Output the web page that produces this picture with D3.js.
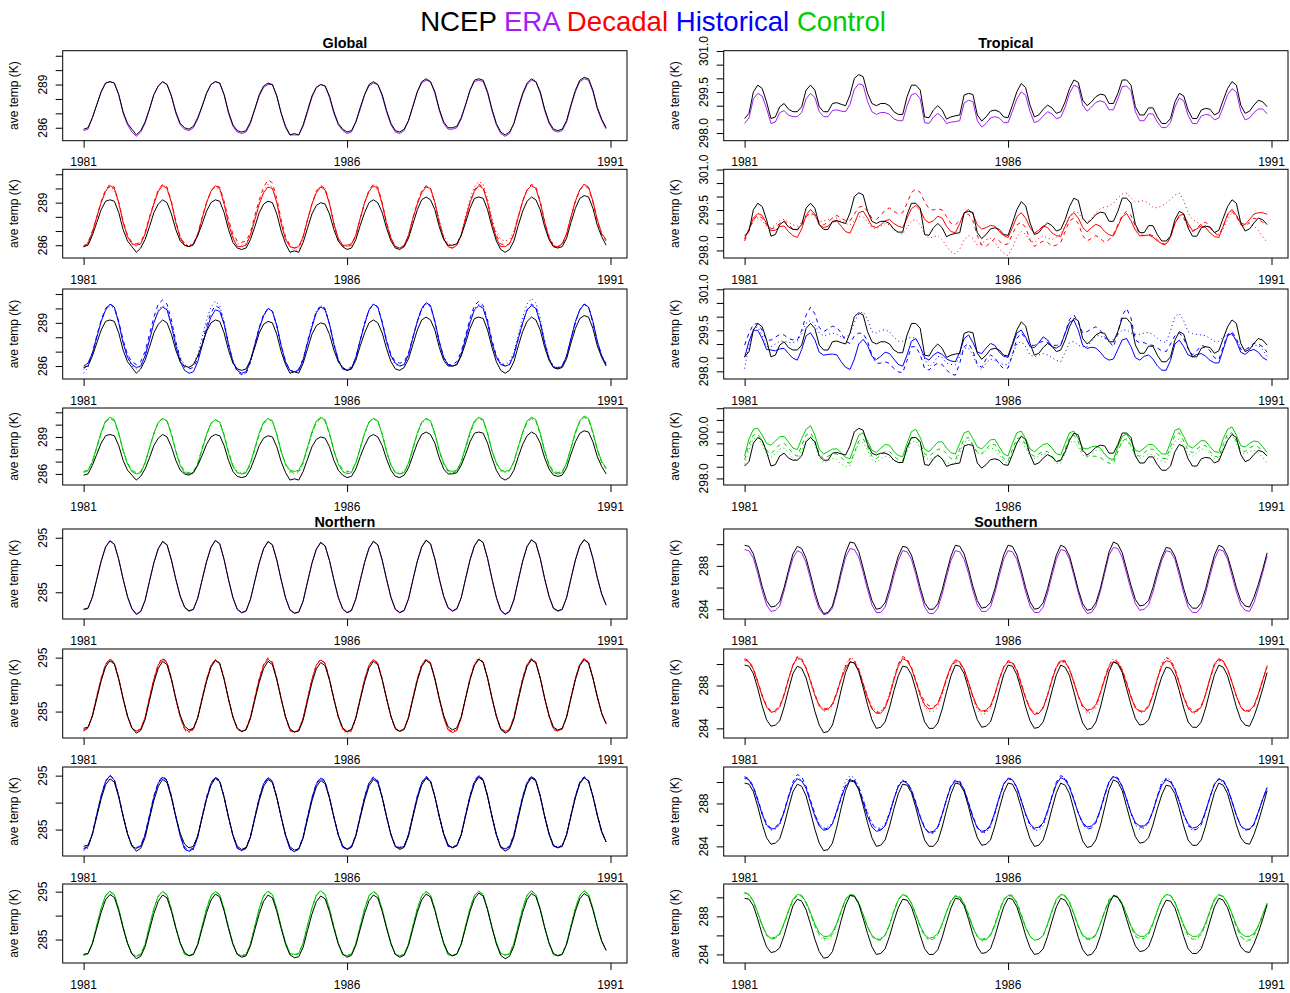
<!DOCTYPE html>
<html>
<head>
<meta charset="utf-8">
<script src="https://cdn.jsdelivr.net/npm/d3@7"></script>
<style>
  body { margin: 0; background: #fff; }
  svg { display: block; }
  text { font-family: "Liberation Sans", Arial, Helvetica, sans-serif; }
</style>
</head>
<body>
<svg id="chart" width="1290" height="993"></svg>
<script>
// monthly mean temperatures (K), Jan 1981 .. Dec 1990, one row per year

var yearTicks = [1981, 1986, 1991];
var sourceNames = ["NCEP", "ERA", "Decadal", "Historical", "Control"];
var regionNames = ["Global", "Tropical", "Northern", "Southern"];

var globalTicks = [286, 287, 288, 289, 290, 291];
var globalLabels = [286, 289];
var tropicalTicks = [298.0, 298.5, 299.0, 299.5, 300.0, 300.5, 301.0];
var tropicalLabels = [298.0, 299.5, 301.0];
var tropicalLabelsShort = [298.0, 300.0];
var northernTicks = [285, 290, 295];
var northernLabels = [285, 295];
var southernTicks = [284, 286, 288, 290];
var southernLabels = [284, 288];

// ---------- Global ----------
var globalNcep = [
285.9,286.0,286.7,287.6,288.5,289.1,289.2,289.1,288.3,287.1,286.3,285.9,
285.5,285.8,286.4,287.3,288.3,288.9,289.2,289.0,288.2,287.1,286.3,286.0,
285.9,286.1,286.7,287.5,288.4,289.0,289.2,289.1,288.3,287.1,286.2,285.8,
285.7,285.8,286.4,287.3,288.3,288.9,289.1,289.0,288.2,287.0,286.1,285.5,
285.6,285.5,286.2,287.2,288.2,288.8,289.0,288.9,288.2,287.1,286.3,285.9,
285.7,285.8,286.4,287.4,288.3,289.0,289.2,289.0,288.3,287.2,286.3,285.8,
285.7,285.9,286.5,287.5,288.5,289.2,289.4,289.2,288.5,287.3,286.4,286.0,
286.0,286.1,286.7,287.6,288.6,289.3,289.4,289.3,288.5,287.3,286.3,285.7,
285.5,285.7,286.3,287.4,288.4,289.1,289.4,289.2,288.5,287.3,286.4,285.9,
285.8,285.9,286.5,287.6,288.6,289.3,289.5,289.4,288.6,287.4,286.6,286.0];
var globalEra = [
285.8,285.9,286.7,287.6,288.5,289.1,289.2,289.1,288.3,287.0,286.2,285.7,
285.4,285.7,286.3,287.3,288.3,288.9,289.2,289.0,288.2,287.0,286.2,285.9,
285.8,286.0,286.6,287.5,288.4,289.0,289.2,289.1,288.3,287.0,286.1,285.7,
285.6,285.7,286.3,287.3,288.2,288.8,289.0,289.0,288.2,287.0,286.0,285.5,
285.5,285.5,286.1,287.1,288.1,288.8,289.0,288.9,288.1,287.0,286.2,285.8,
285.6,285.7,286.4,287.3,288.3,288.9,289.1,289.0,288.2,287.1,286.2,285.7,
285.6,285.8,286.5,287.5,288.5,289.1,289.3,289.2,288.4,287.2,286.3,285.9,
285.9,286.0,286.6,287.6,288.6,289.2,289.3,289.2,288.4,287.2,286.2,285.6,
285.4,285.6,286.3,287.3,288.3,289.0,289.3,289.2,288.4,287.2,286.3,285.8,
285.7,285.8,286.4,287.5,288.5,289.2,289.4,289.3,288.5,287.3,286.5,285.9];
var globalDecadal1 = [
285.9,286.1,286.9,288.0,289.0,289.8,290.2,290.0,289.0,287.6,286.6,286.1,
286.0,286.1,286.8,287.9,288.9,289.8,290.2,290.0,289.0,287.6,286.5,286.0,
285.9,286.0,286.7,287.9,289.0,289.8,290.2,290.0,288.9,287.5,286.5,285.9,
285.9,286.0,286.7,287.8,288.9,289.7,290.1,290.0,289.0,287.5,286.4,285.9,
285.8,285.9,286.6,287.8,288.9,289.7,290.1,289.9,288.9,287.5,286.5,286.0,
286.0,286.1,286.7,287.9,289.0,289.8,290.2,290.0,288.9,287.5,286.5,285.9,
285.8,286.0,286.7,287.9,288.9,289.7,290.1,290.0,289.0,287.6,286.5,285.9,
285.8,286.0,286.7,287.9,289.0,289.8,290.2,290.0,289.0,287.6,286.5,285.9,
285.9,286.1,286.8,288.0,289.1,289.9,290.2,290.0,289.0,287.6,286.5,285.9,
285.9,286.1,286.8,288.0,289.1,289.9,290.3,290.1,289.1,287.8,286.8,286.4];
var globalDecadal2 = [
285.9,286.2,287.0,288.0,289.1,289.9,290.3,290.1,289.0,287.7,286.7,286.2,
286.1,286.2,286.9,288.0,289.0,289.9,290.3,290.1,289.1,287.7,286.6,286.1,
285.9,286.1,286.8,288.0,289.0,289.8,290.2,290.1,289.1,287.8,286.8,286.3,
286.2,286.3,286.9,288.1,289.2,290.1,290.6,290.4,289.3,287.8,286.6,286.0,
285.8,285.9,286.6,287.8,288.9,289.8,290.2,290.0,289.0,287.5,286.4,285.9,
285.9,286.0,286.7,287.9,289.0,289.9,290.3,290.1,289.0,287.6,286.5,285.9,
285.8,285.9,286.7,287.9,289.0,289.8,290.2,290.0,289.0,287.6,286.5,285.9,
285.8,286.0,286.7,287.9,289.0,289.9,290.3,290.1,289.1,287.7,286.7,286.1,
286.0,286.1,286.8,288.0,289.1,289.9,290.3,290.1,289.1,287.7,286.6,286.0,
285.9,286.0,286.8,288.0,289.1,289.9,290.2,290.0,289.0,287.7,286.7,286.3];
var globalDecadal3 = [
286.0,286.2,286.9,287.9,289.0,289.8,290.1,289.9,288.9,287.6,286.6,286.1,
285.9,286.1,286.8,287.9,289.0,289.9,290.3,290.0,289.0,287.6,286.6,286.1,
286.0,286.1,286.8,287.9,289.0,289.8,290.1,289.9,288.9,287.6,286.6,286.1,
286.0,286.1,286.8,287.9,289.0,289.8,290.3,290.1,289.0,287.6,286.5,285.9,
285.6,285.7,286.5,287.7,288.9,289.8,290.2,290.0,289.0,287.5,286.5,286.0,
285.9,286.0,286.7,287.9,289.0,289.8,290.1,289.9,288.9,287.5,286.5,285.9,
285.8,286.0,286.7,287.9,289.0,289.8,290.2,290.0,289.1,287.8,286.7,286.1,
286.0,286.1,286.8,288.1,289.3,290.1,290.5,290.3,289.3,287.9,286.9,286.4,
286.3,286.4,287.0,288.1,289.1,289.9,290.2,290.0,289.0,287.7,286.6,286.0,
285.9,286.1,286.8,288.0,289.1,289.9,290.3,290.1,289.1,287.8,286.8,286.4];
var globalHistorical1 = [
286.0,286.2,286.9,288.0,289.1,289.9,290.3,290.1,289.0,287.6,286.6,286.1,
285.9,286.0,286.7,287.8,289.0,289.8,290.1,289.9,288.8,287.4,286.3,285.7,
285.5,285.6,286.3,287.4,288.5,289.4,289.9,289.8,288.9,287.5,286.3,285.7,
285.5,285.6,286.4,287.5,288.6,289.5,290.0,289.8,288.8,287.4,286.3,285.7,
285.6,285.7,286.4,287.6,288.7,289.7,290.1,289.9,288.9,287.5,286.4,285.8,
285.7,285.8,286.6,287.8,288.9,289.9,290.3,290.1,289.0,287.7,286.7,286.2,
286.0,286.1,286.8,288.0,289.1,290.0,290.4,290.2,289.1,287.7,286.6,286.1,
286.0,286.1,286.8,287.9,289.0,289.9,290.2,290.0,289.0,287.6,286.6,286.1,
286.0,286.1,286.8,287.9,289.0,289.9,290.2,290.0,289.0,287.6,286.5,285.9,
285.8,286.0,286.7,287.9,289.1,289.9,290.3,290.1,289.1,287.7,286.7,286.1];
var globalHistorical2 = [
285.8,286.1,286.9,288.1,289.2,290.0,290.3,290.1,289.1,287.8,286.8,286.3,
286.1,286.3,287.0,288.2,289.4,290.3,290.6,290.3,289.2,287.7,286.5,285.9,
285.8,285.9,286.5,287.6,288.8,289.7,290.2,290.0,289.0,287.5,286.3,285.6,
285.4,285.5,286.3,287.5,288.7,289.6,290.0,289.8,288.8,287.4,286.3,285.7,
285.6,285.8,286.5,287.7,288.8,289.8,290.2,290.0,288.9,287.5,286.4,285.8,
285.8,285.9,286.6,287.8,289.0,289.9,290.3,290.1,289.1,287.8,286.8,286.3,
286.2,286.3,286.9,288.0,289.1,290.0,290.4,290.2,289.1,287.7,286.6,286.1,
286.1,286.3,287.0,288.1,289.3,290.2,290.5,290.2,289.2,287.8,286.7,286.2,
286.0,286.1,286.7,287.9,289.0,289.9,290.3,290.1,289.0,287.6,286.5,285.9,
285.9,286.0,286.7,287.9,289.0,289.9,290.3,290.1,289.0,287.7,286.7,286.2];
var globalHistorical3 = [
285.5,285.9,286.8,288.0,289.1,289.9,290.2,290.0,289.0,287.6,286.6,286.0,
285.8,286.0,286.7,287.9,289.0,289.9,290.2,290.0,289.0,287.6,286.6,286.1,
285.9,286.1,286.8,288.0,289.2,290.1,290.5,290.2,289.1,287.6,286.4,285.7,
285.4,285.5,286.2,287.4,288.6,289.5,290.0,289.8,288.8,287.4,286.2,285.7,
285.6,285.7,286.5,287.7,288.9,289.8,290.2,290.0,289.0,287.6,286.5,285.9,
285.7,285.9,286.6,287.8,289.0,289.9,290.3,290.1,289.0,287.6,286.6,286.1,
286.0,286.1,286.8,287.9,289.0,289.9,290.3,290.1,289.0,287.6,286.6,286.1,
286.0,286.1,286.8,288.0,289.1,290.0,290.3,290.1,289.1,287.7,286.7,286.2,
286.1,286.3,287.0,288.2,289.4,290.3,290.7,290.4,289.3,287.8,286.6,286.0,
285.9,286.0,286.7,287.9,289.0,289.9,290.3,290.1,289.0,287.7,286.7,286.2];
var globalControl1 = [
286.2,286.3,287.0,288.2,289.4,290.3,290.6,290.4,289.3,287.9,286.8,286.2,
286.0,286.1,286.9,288.1,289.3,290.2,290.5,290.3,289.2,287.8,286.7,286.1,
286.0,286.1,286.8,288.0,289.2,290.1,290.4,290.2,289.1,287.7,286.6,286.1,
286.0,286.1,286.9,288.1,289.3,290.2,290.5,290.3,289.2,287.8,286.8,286.3,
286.2,286.3,287.0,288.2,289.4,290.3,290.6,290.4,289.3,287.9,286.8,286.2,
286.0,286.1,286.9,288.1,289.3,290.2,290.5,290.3,289.2,287.8,286.7,286.1,
286.0,286.1,286.9,288.1,289.3,290.2,290.5,290.3,289.3,287.9,286.9,286.3,
286.2,286.3,287.0,288.2,289.4,290.3,290.6,290.4,289.3,287.9,286.9,286.3,
286.2,286.3,287.0,288.2,289.4,290.3,290.6,290.4,289.3,287.8,286.7,286.1,
286.0,286.1,286.9,288.1,289.4,290.3,290.7,290.5,289.4,288.0,287.0,286.5];
var globalControl2 = [
286.1,286.3,287.0,288.1,289.3,290.2,290.5,290.3,289.2,287.9,286.9,286.3,
286.1,286.2,286.9,288.1,289.3,290.2,290.5,290.3,289.3,287.9,286.8,286.2,
286.1,286.2,286.9,288.1,289.2,290.1,290.4,290.2,289.2,287.8,286.7,286.1,
286.0,286.1,286.8,288.0,289.2,290.1,290.4,290.3,289.2,287.8,286.8,286.2,
286.1,286.2,286.9,288.1,289.3,290.2,290.5,290.3,289.2,287.9,286.9,286.4,
286.2,286.2,286.9,288.1,289.3,290.2,290.5,290.3,289.2,287.8,286.7,286.1,
286.0,286.1,286.8,288.0,289.3,290.2,290.5,290.3,289.2,287.8,286.8,286.2,
286.1,286.2,286.9,288.1,289.3,290.2,290.5,290.4,289.3,287.9,286.9,286.3,
286.2,286.3,287.0,288.2,289.3,290.2,290.5,290.3,289.2,287.9,286.8,286.2,
286.1,286.2,286.9,288.1,289.3,290.2,290.6,290.4,289.3,287.9,286.9,286.4];
var globalControl3 = [
286.2,286.2,286.9,288.1,289.3,290.2,290.5,290.3,289.3,287.9,286.8,286.2,
286.0,286.1,286.8,288.0,289.2,290.1,290.4,290.3,289.2,287.8,286.7,286.1,
286.0,286.1,286.8,288.0,289.2,290.1,290.4,290.2,289.1,287.8,286.8,286.2,
286.1,286.2,286.9,288.1,289.3,290.2,290.5,290.3,289.2,287.8,286.7,286.1,
286.0,286.1,286.8,288.0,289.2,290.1,290.5,290.3,289.2,287.8,286.8,286.2,
286.1,286.2,286.9,288.1,289.3,290.2,290.5,290.3,289.3,287.9,286.8,286.2,
286.1,286.2,286.9,288.1,289.2,290.1,290.4,290.3,289.2,287.9,286.8,286.2,
286.1,286.2,286.9,288.0,289.2,290.2,290.5,290.3,289.2,287.8,286.8,286.2,
286.1,286.2,286.9,288.1,289.3,290.2,290.5,290.3,289.3,287.9,286.8,286.2,
286.1,286.2,286.9,288.1,289.3,290.3,290.6,290.4,289.3,287.9,286.9,286.5];

// ---------- Tropical ----------
var tropicalNcep = [
298.53,298.72,299.51,299.75,299.63,299.14,298.53,298.59,298.96,299.08,298.87,298.78,
298.78,298.96,299.57,299.75,299.57,298.96,298.78,298.78,299.08,299.11,299.05,299.00,
299.39,300.00,300.14,300.06,299.45,299.08,299.00,299.08,299.08,299.00,298.78,298.68,
298.68,299.33,299.75,299.75,299.57,298.59,298.56,298.84,299.00,298.84,298.51,298.59,
298.63,298.66,299.39,299.45,299.41,298.66,298.44,298.59,298.80,298.84,298.78,298.59,
298.56,299.02,299.51,299.81,299.66,299.02,298.59,298.66,298.87,299.02,298.92,298.72,
298.78,299.14,299.63,299.94,299.85,299.20,299.00,299.14,299.33,299.42,299.39,299.08,
299.08,299.45,299.94,299.94,299.75,298.96,298.66,298.66,298.92,298.92,298.59,298.35,
298.35,298.53,299.14,299.45,299.36,298.84,298.53,298.53,298.84,298.90,298.87,298.66,
298.75,299.20,299.63,299.88,299.75,299.02,298.72,298.80,299.02,299.20,299.14,298.96];
var tropicalEra = [
298.35,298.55,299.25,299.45,299.35,298.90,298.35,298.40,298.75,298.82,298.65,298.60,
298.60,298.75,299.25,299.45,299.30,298.78,298.60,298.60,298.82,298.85,298.80,298.78,
299.05,299.60,299.80,299.75,299.15,298.78,298.68,298.75,298.75,298.68,298.52,298.45,
298.45,299.00,299.40,299.45,299.25,298.38,298.35,298.58,298.72,298.58,298.35,298.40,
298.42,298.45,299.10,299.20,299.15,298.45,298.22,298.35,298.55,298.60,298.55,298.38,
298.38,298.80,299.25,299.50,299.38,298.78,298.38,298.45,298.62,298.78,298.70,298.52,
298.58,298.95,299.45,299.75,299.68,299.02,298.80,298.95,299.12,299.18,299.12,298.85,
298.85,299.25,299.70,299.72,299.55,298.78,298.45,298.45,298.70,298.70,298.40,298.20,
298.20,298.38,298.95,299.28,299.18,298.65,298.35,298.35,298.62,298.68,298.65,298.48,
298.55,298.95,299.40,299.62,299.50,298.80,298.48,298.55,298.75,298.88,298.88,298.70];
var tropicalDecadal1 = [
298.42,298.80,299.20,299.37,299.30,299.00,298.73,298.75,298.88,298.91,298.70,298.55,
298.48,298.80,299.30,299.52,299.35,298.95,298.85,298.90,299.05,299.09,298.90,298.70,
298.64,299.00,299.40,299.46,299.20,298.90,298.85,298.95,299.10,299.15,299.00,298.90,
298.85,299.20,299.55,299.67,299.50,299.15,299.03,299.10,299.27,299.20,298.90,298.70,
298.66,299.00,299.40,299.52,299.35,298.95,298.79,298.85,298.93,298.90,298.70,298.55,
298.48,298.85,299.25,299.40,299.20,298.85,298.64,298.75,298.91,298.85,298.65,298.55,
298.52,298.90,299.25,299.40,299.20,298.85,298.69,298.85,298.97,298.90,298.70,298.58,
298.54,298.90,299.25,299.37,299.10,298.75,298.54,298.55,298.57,298.50,298.35,298.25,
298.24,298.50,299.00,299.30,299.34,299.00,298.73,298.80,298.91,298.85,298.65,298.52,
298.48,298.90,299.35,299.52,299.30,299.00,298.97,299.15,299.35,299.40,299.40,299.34];
var tropicalDecadal2 = [
298.35,298.75,299.15,299.30,299.20,298.95,298.80,298.85,299.00,299.10,298.95,298.80,
298.75,298.95,299.25,299.40,299.30,299.05,298.95,299.05,299.20,299.30,299.20,299.10,
299.10,299.35,299.60,299.65,299.45,299.20,299.15,299.30,299.50,299.58,299.45,299.35,
299.40,299.75,300.15,300.28,300.15,299.80,299.55,299.50,299.55,299.50,299.25,299.00,
298.95,299.10,299.30,299.35,299.10,298.55,298.20,298.15,298.30,298.45,298.35,298.20,
298.25,298.60,298.95,299.05,298.85,298.40,298.15,298.25,298.35,298.30,298.15,298.20,
298.30,298.70,299.10,299.20,299.00,298.55,298.35,298.45,298.55,298.45,298.30,298.40,
298.60,298.95,299.30,299.45,299.30,298.90,298.60,298.55,298.60,298.55,298.40,298.25,
298.20,298.50,299.00,299.25,299.20,298.90,298.70,298.80,299.00,299.05,298.85,298.65,
298.55,298.90,299.30,299.45,299.25,298.95,298.90,299.05,299.20,299.15,299.05,298.95];
var tropicalDecadal3 = [
298.45,298.80,299.10,299.20,299.10,298.90,298.85,298.95,299.10,299.15,299.05,298.95,
298.90,299.05,299.30,299.35,299.20,299.05,299.10,299.15,299.20,299.20,299.10,299.00,
298.95,299.10,299.25,299.25,299.05,298.85,298.80,298.90,299.00,298.95,298.80,298.65,
298.60,298.85,299.10,299.15,298.95,298.60,298.45,298.50,298.55,298.40,298.15,297.95,
297.87,298.05,298.40,298.55,298.45,298.20,298.25,298.40,298.45,298.30,298.05,297.90,
297.81,298.10,298.50,298.70,298.60,298.35,298.30,298.45,298.55,298.45,298.40,298.50,
298.60,298.90,299.25,299.45,299.40,299.15,299.05,299.20,299.40,299.55,299.60,299.65,
299.75,299.95,300.10,300.13,299.95,299.80,299.82,299.85,299.75,299.60,299.58,299.65,
299.75,299.90,300.05,300.13,299.85,299.40,299.15,299.05,298.95,298.91,298.85,298.70,
298.60,298.80,299.15,299.40,299.30,299.05,298.95,299.00,298.90,298.75,298.50,298.30];
var tropicalHistorical1 = [
298.51,299.10,299.50,299.50,299.20,298.80,298.78,298.75,298.82,298.84,298.65,298.48,
298.41,298.80,299.30,299.41,299.15,298.70,298.59,298.62,298.63,298.60,298.35,298.15,
298.07,298.45,299.00,299.17,298.95,298.55,298.43,298.55,298.70,298.65,298.45,298.25,
298.19,298.60,299.10,299.20,298.90,298.50,298.41,298.60,298.70,298.62,298.45,298.38,
298.35,298.70,299.20,299.33,299.05,298.70,298.65,298.85,299.02,298.95,298.70,298.55,
298.51,298.95,299.40,299.51,299.25,298.90,298.87,299.05,299.26,299.15,298.90,298.85,
298.95,299.40,299.80,299.87,299.50,298.95,298.84,298.88,298.85,298.70,298.50,298.41,
298.45,298.80,299.15,299.20,298.90,298.50,298.41,298.55,298.60,298.45,298.20,298.04,
298.04,298.40,299.00,299.14,298.90,298.60,298.53,298.62,298.65,298.55,298.40,298.31,
298.31,298.80,299.30,299.39,299.10,298.70,298.62,298.75,298.80,298.70,298.50,298.41];
var tropicalHistorical2 = [
298.96,299.40,299.72,299.75,299.50,299.15,299.14,299.25,299.35,299.33,299.20,299.15,
299.14,299.50,300.05,300.34,300.10,299.60,299.45,299.55,299.65,299.60,299.40,299.10,
299.02,299.30,299.40,299.38,299.10,298.60,298.29,298.30,298.35,298.29,298.10,297.98,
297.95,298.40,298.90,298.90,298.60,298.10,298.05,298.20,298.30,298.25,298.05,297.90,
297.86,298.30,298.90,299.02,298.75,298.25,298.15,298.45,298.60,298.50,298.25,298.10,
298.12,298.60,299.20,299.40,299.20,298.95,298.95,299.05,299.10,299.05,298.95,298.95,
298.97,299.40,299.90,300.06,299.80,299.40,299.45,299.55,299.63,299.50,299.25,299.10,
298.90,299.40,300.05,300.30,299.95,299.15,299.03,299.05,298.97,298.95,298.85,298.75,
298.72,299.00,299.30,299.40,299.20,298.85,298.60,298.75,298.95,298.90,298.75,298.50,
298.42,298.90,299.35,299.45,299.20,298.80,298.78,298.90,299.03,299.00,298.90,298.70];
var tropicalHistorical3 = [
298.10,299.00,299.55,299.63,299.30,298.90,298.90,299.00,299.10,299.10,299.05,299.05,
299.10,299.40,299.75,299.87,299.70,299.40,299.30,299.35,299.40,299.35,299.25,299.25,
299.35,299.80,300.10,300.18,299.90,299.45,299.40,299.50,299.52,299.45,299.25,299.10,
299.10,299.20,299.25,299.20,298.90,298.45,298.17,298.30,298.55,298.50,298.30,298.25,
298.24,298.55,298.85,298.85,298.60,298.20,298.05,298.30,298.45,298.40,298.30,298.25,
298.24,298.60,299.00,299.09,298.90,298.60,298.53,298.60,298.65,298.60,298.50,298.40,
298.35,298.70,299.05,299.09,298.95,298.90,298.90,299.10,299.30,299.30,299.20,299.15,
299.15,299.35,299.50,299.52,299.40,299.35,299.35,299.40,299.42,299.35,299.20,299.10,
299.05,299.50,300.00,300.12,299.85,299.45,299.38,299.35,299.33,299.30,299.20,299.10,
299.10,299.25,299.35,299.33,299.15,298.90,298.78,298.85,298.95,298.95,298.80,298.55];
var tropicalControl1 = [
298.96,299.70,300.10,300.14,299.85,299.50,299.42,299.60,299.78,299.80,299.55,299.30,
299.23,299.70,300.10,300.25,299.85,299.25,299.04,299.15,299.25,299.27,299.10,298.90,
298.84,299.35,299.85,299.95,299.60,299.20,299.11,299.30,299.45,299.42,299.15,298.98,
298.93,299.50,300.00,300.10,299.75,299.25,299.14,299.35,299.55,299.57,299.30,299.10,
299.04,299.50,299.95,300.02,299.70,299.35,299.26,299.45,299.65,299.67,299.35,299.05,
298.96,299.50,299.95,300.02,299.70,299.25,299.14,299.30,299.45,299.49,299.30,299.05,
299.00,299.50,299.95,300.02,299.70,299.30,299.26,299.35,299.38,299.30,299.05,298.85,
298.81,299.35,299.80,299.90,299.60,299.20,299.14,299.30,299.45,299.45,299.25,299.05,
299.04,299.55,300.05,300.14,299.80,299.40,299.30,299.45,299.62,299.60,299.35,299.15,
299.11,299.70,300.10,300.20,299.85,299.40,299.34,299.50,299.60,299.57,299.35,299.11];
var tropicalControl2 = [
298.80,299.45,299.85,299.90,299.60,299.20,299.05,299.25,299.45,299.50,299.30,299.05,
298.95,299.40,299.85,299.95,299.60,299.05,298.85,298.95,299.05,299.05,298.90,298.70,
298.65,299.10,299.60,299.70,299.35,298.95,298.85,299.00,299.15,299.15,298.95,298.80,
298.75,299.25,299.70,299.80,299.50,299.05,298.95,299.10,299.25,299.25,299.05,298.85,
298.80,299.25,299.70,299.75,299.45,299.10,299.05,299.25,299.45,299.45,299.15,298.85,
298.75,299.25,299.70,299.75,299.45,299.05,298.95,299.05,299.15,299.15,298.95,298.75,
298.75,299.25,299.75,299.85,299.55,299.10,298.95,298.95,298.95,298.90,298.75,298.65,
298.65,299.15,299.60,299.70,299.40,299.00,298.95,299.10,299.25,299.25,299.05,298.85,
298.85,299.35,299.85,299.95,299.60,299.20,299.10,299.25,299.40,299.40,299.15,298.95,
298.90,299.45,299.90,299.95,299.60,299.20,299.15,299.30,299.40,299.35,299.15,298.95];
var tropicalControl3 = [
298.60,299.25,299.70,299.75,299.45,299.05,298.90,299.05,299.25,299.30,299.10,298.85,
298.75,299.20,299.65,299.80,299.45,298.90,298.65,298.75,298.85,298.80,298.60,298.50,
298.55,299.05,299.50,299.55,299.20,298.80,298.70,298.85,298.95,298.90,298.75,298.70,
298.65,299.15,299.55,299.60,299.30,298.90,298.80,298.90,298.95,298.85,298.70,298.60,
298.65,299.10,299.55,299.65,299.40,299.10,299.05,299.20,299.30,299.25,299.00,298.75,
298.65,299.10,299.55,299.60,299.30,298.95,298.85,298.95,299.05,299.05,298.85,298.65,
298.65,299.10,299.55,299.60,299.35,299.00,298.90,299.05,299.20,299.20,299.00,298.80,
298.75,299.20,299.60,299.65,299.35,298.95,298.85,298.95,299.05,299.00,298.85,298.75,
298.70,299.15,299.60,299.70,299.40,299.05,298.95,299.10,299.25,299.25,299.05,298.85,
298.80,299.30,299.75,299.85,299.50,299.10,299.05,299.15,299.20,299.10,298.90,298.66];

// ---------- Northern ----------
var northernNcep = [
281.9,282.1,284.1,287.4,290.7,293.3,294.4,293.8,291.0,287.4,284.2,282.0,
281.0,281.5,283.5,287.0,290.4,293.0,294.3,293.7,290.9,287.4,284.3,282.3,
281.6,281.9,283.9,287.3,290.6,293.2,294.5,293.9,291.0,287.3,284.0,281.9,
281.3,281.6,283.7,287.1,290.4,293.0,294.3,293.7,290.9,287.3,284.0,281.8,
281.2,281.4,283.4,286.9,290.3,292.9,294.1,293.5,290.8,287.3,284.1,282.0,
281.3,281.7,283.8,287.2,290.5,293.1,294.3,293.7,290.9,287.4,284.1,281.9,
281.3,281.7,283.8,287.3,290.7,293.3,294.5,293.9,291.1,287.5,284.3,282.2,
281.6,282.0,284.0,287.5,290.9,293.5,294.7,294.1,291.2,287.5,284.1,281.7,
281.0,281.5,283.6,287.2,290.7,293.4,294.6,294.0,291.2,287.5,284.3,282.1,
281.6,281.9,284.0,287.5,290.9,293.5,294.6,294.0,291.2,287.7,284.7,282.7];
var northernEra = [
281.8,282.0,284.1,287.4,290.7,293.3,294.5,293.8,291.0,287.4,284.1,281.9,
280.9,281.4,283.5,287.0,290.4,293.0,294.3,293.7,290.9,287.3,284.2,282.2,
281.5,281.8,283.9,287.3,290.6,293.2,294.5,293.9,291.0,287.3,284.0,281.8,
281.2,281.5,283.7,287.1,290.4,293.0,294.3,293.7,290.9,287.2,283.9,281.7,
281.1,281.3,283.4,286.9,290.3,292.9,294.2,293.5,290.8,287.2,284.0,281.9,
281.2,281.6,283.8,287.2,290.5,293.1,294.4,293.7,290.9,287.3,284.0,281.8,
281.2,281.6,283.8,287.3,290.7,293.3,294.6,293.9,291.1,287.4,284.2,282.1,
281.5,281.9,284.0,287.5,290.9,293.5,294.7,294.1,291.2,287.4,284.0,281.6,
280.9,281.4,283.6,287.2,290.7,293.4,294.6,294.0,291.2,287.4,284.2,282.0,
281.5,281.8,284.0,287.5,290.9,293.5,294.7,294.0,291.2,287.6,284.6,282.6];
var northernDecadal1 = [
281.6,282.0,284.3,287.8,291.1,293.7,294.7,294.0,291.1,287.4,284.1,281.9,
281.4,281.8,283.9,287.5,290.9,293.6,294.7,294.0,291.1,287.4,284.1,281.8,
281.3,281.7,283.9,287.5,290.9,293.5,294.6,293.9,291.0,287.3,284.0,281.8,
281.3,281.7,283.9,287.5,291.0,293.6,294.7,294.0,291.1,287.4,284.0,281.6,
281.2,281.6,283.8,287.4,290.9,293.6,294.6,293.9,291.0,287.3,284.0,281.8,
281.2,281.6,283.9,287.5,291.0,293.6,294.6,293.9,291.0,287.4,284.1,281.8,
281.4,281.8,284.0,287.6,291.0,293.6,294.6,293.9,291.0,287.3,283.9,281.6,
281.1,281.5,283.8,287.5,291.0,293.7,294.7,294.1,291.2,287.5,284.2,281.8,
281.3,281.7,283.9,287.6,291.1,293.7,294.8,294.1,291.2,287.5,284.2,281.8,
281.4,281.8,284.0,287.6,291.1,293.7,294.8,294.1,291.2,287.7,284.6,282.8];
var northernDecadal2 = [
281.4,281.9,284.3,287.9,291.2,293.8,294.8,294.1,291.2,287.5,284.2,281.9,
281.3,281.7,283.9,287.6,291.1,293.8,295.0,294.2,291.2,287.4,284.0,281.7,
281.4,281.8,284.0,287.6,291.0,293.6,294.6,294.0,291.1,287.4,284.1,281.9,
281.4,281.8,284.0,287.6,291.1,293.8,295.0,294.2,291.2,287.4,283.9,281.4,
281.1,281.5,283.7,287.4,290.9,293.6,294.7,294.0,291.1,287.4,284.1,281.8,
281.0,281.5,283.8,287.5,291.0,293.6,294.7,294.0,291.1,287.4,284.0,281.7,
281.3,281.7,284.0,287.6,291.1,293.7,294.8,294.1,291.1,287.4,284.1,281.8,
281.2,281.6,283.9,287.6,291.1,293.8,294.9,294.2,291.3,287.6,284.3,281.9,
281.4,281.8,284.0,287.7,291.2,293.8,294.9,294.2,291.2,287.5,284.1,281.7,
281.3,281.7,283.9,287.6,291.1,293.8,294.9,294.2,291.3,287.8,284.6,282.9];
var northernDecadal3 = [
281.5,281.9,284.2,287.7,291.0,293.6,294.6,293.9,291.0,287.4,284.1,281.8,
281.3,281.7,283.9,287.5,291.0,293.7,294.8,294.1,291.1,287.3,283.9,281.5,
281.1,281.6,283.8,287.4,290.9,293.6,294.7,294.0,291.1,287.4,284.0,281.7,
281.2,281.6,283.8,287.5,291.0,293.7,294.8,294.1,291.1,287.3,283.9,281.5,
281.3,281.7,283.9,287.5,291.0,293.6,294.6,293.9,291.0,287.3,283.9,281.5,
280.8,281.3,283.6,287.3,290.9,293.6,294.7,294.0,291.1,287.4,284.1,281.9,
281.4,281.8,284.0,287.6,291.1,293.7,294.8,294.1,291.1,287.4,284.0,281.7,
281.3,281.7,284.0,287.7,291.2,293.9,295.1,294.3,291.3,287.5,284.1,281.7,
281.2,281.6,283.8,287.5,291.0,293.6,294.7,294.0,291.1,287.5,284.3,282.0,
281.5,281.9,284.1,287.7,291.2,293.8,294.9,294.2,291.2,287.6,284.5,282.7];
var northernHistorical1 = [
281.3,281.8,284.2,287.8,291.3,293.9,295.0,294.2,291.2,287.5,284.2,281.9,
281.5,281.9,284.0,287.5,291.0,293.6,294.7,294.0,291.1,287.3,283.8,281.4,
281.0,281.4,283.6,287.3,290.8,293.5,294.6,293.9,291.0,287.3,283.9,281.5,
281.1,281.5,283.6,287.3,290.8,293.5,294.6,293.9,291.0,287.3,283.9,281.4,
280.9,281.4,283.6,287.3,290.8,293.4,294.5,293.8,290.9,287.3,284.0,281.7,
281.4,281.8,283.9,287.5,291.0,293.6,294.6,293.9,291.0,287.3,284.0,281.8,
281.6,281.9,284.1,287.7,291.1,293.7,294.7,294.0,291.1,287.4,284.1,281.9,
281.7,282.0,284.1,287.7,291.2,293.8,294.9,294.2,291.2,287.4,284.0,281.7,
281.4,281.8,284.0,287.6,291.1,293.7,294.8,294.1,291.1,287.4,284.1,281.9,
281.7,282.0,284.1,287.7,291.1,293.7,294.7,294.0,291.1,287.6,284.5,282.7];
var northernHistorical2 = [
281.5,281.9,284.3,287.9,291.3,294.0,295.1,294.3,291.3,287.6,284.3,282.0,
281.6,282.0,284.2,287.7,291.2,293.8,294.9,294.2,291.3,287.5,284.1,281.7,
281.2,281.6,283.8,287.5,291.0,293.7,294.8,294.1,291.1,287.3,283.9,281.6,
281.3,281.7,283.8,287.4,290.9,293.6,294.7,294.0,291.0,287.3,283.9,281.5,
281.0,281.5,283.7,287.4,290.9,293.6,294.7,294.0,291.0,287.4,284.1,281.8,
281.5,281.9,284.0,287.6,291.1,293.7,294.8,294.1,291.1,287.4,284.1,281.9,
281.7,282.0,284.1,287.7,291.2,293.8,294.9,294.1,291.2,287.5,284.2,282.0,
281.8,282.1,284.2,287.8,291.3,294.0,295.1,294.3,291.3,287.5,284.1,281.8,
281.5,281.9,284.1,287.7,291.2,293.8,295.0,294.2,291.2,287.5,284.2,282.0,
281.6,281.9,284.1,287.7,291.2,293.8,294.8,294.1,291.2,287.7,284.6,282.8];
var northernHistorical3 = [
281.1,281.6,284.0,287.7,291.2,293.9,295.0,294.2,291.2,287.5,284.3,282.1,
281.7,282.0,284.1,287.6,291.1,293.7,294.8,294.1,291.2,287.4,283.9,281.3,
280.9,281.3,283.5,287.2,290.8,293.5,294.7,294.0,291.0,287.3,284.0,281.6,
281.1,281.5,283.6,287.3,290.8,293.5,294.6,293.9,291.0,287.3,283.8,281.3,
280.9,281.3,283.5,287.2,290.7,293.4,294.5,293.8,290.9,287.3,284.0,281.7,
281.4,281.8,283.9,287.5,291.0,293.6,294.7,294.0,291.1,287.3,284.0,281.8,
281.5,281.9,284.1,287.7,291.1,293.7,294.8,294.0,291.1,287.4,284.1,281.9,
281.7,282.0,284.1,287.7,291.2,293.9,295.1,294.3,291.3,287.5,284.1,281.8,
281.5,281.8,283.9,287.6,291.1,293.7,294.9,294.1,291.2,287.5,284.3,282.1,
281.8,282.1,284.2,287.8,291.2,293.8,294.8,294.1,291.1,287.6,284.5,282.7];
var northernControl1 = [
281.8,282.0,284.3,288.0,291.6,294.2,295.1,294.4,291.4,287.6,284.3,282.0,
281.5,281.8,284.0,287.8,291.4,294.1,295.0,294.3,291.3,287.5,284.2,281.9,
281.6,281.9,284.1,287.8,291.4,294.1,295.0,294.3,291.3,287.6,284.2,281.9,
281.6,281.9,284.1,287.8,291.5,294.2,295.1,294.4,291.4,287.6,284.4,282.1,
281.9,282.1,284.3,288.0,291.6,294.3,295.2,294.4,291.4,287.6,284.2,281.8,
281.6,281.9,284.1,287.8,291.4,294.1,295.0,294.3,291.3,287.6,284.2,281.9,
281.6,281.9,284.1,287.8,291.4,294.1,295.0,294.3,291.3,287.5,284.1,281.8,
281.6,281.9,284.1,287.9,291.5,294.2,295.1,294.4,291.4,287.6,284.4,282.1,
281.8,282.0,284.2,287.9,291.5,294.3,295.2,294.4,291.4,287.6,284.2,281.8,
281.6,281.9,284.1,287.9,291.5,294.2,295.2,294.5,291.5,287.8,284.6,282.8];
var northernControl2 = [
281.7,282.0,284.3,288.0,291.5,294.1,295.0,294.3,291.4,287.6,284.3,282.0,
281.6,281.9,284.1,287.8,291.4,294.1,295.0,294.3,291.4,287.6,284.3,282.0,
281.7,282.0,284.2,287.9,291.5,294.2,295.1,294.4,291.4,287.6,284.2,281.9,
281.5,281.8,284.0,287.7,291.3,294.0,295.0,294.3,291.3,287.6,284.3,282.0,
281.8,282.0,284.2,287.9,291.5,294.2,295.1,294.4,291.4,287.7,284.3,281.9,
281.7,282.0,284.2,287.9,291.5,294.2,295.1,294.3,291.3,287.5,284.1,281.8,
281.6,281.9,284.1,287.8,291.4,294.1,295.0,294.3,291.4,287.6,284.2,281.9,
281.7,282.0,284.2,287.9,291.5,294.2,295.1,294.4,291.4,287.6,284.3,282.0,
281.7,282.0,284.2,287.9,291.5,294.2,295.1,294.4,291.4,287.6,284.3,281.9,
281.7,282.0,284.2,287.9,291.5,294.2,295.1,294.4,291.5,287.8,284.7,282.9];
var northernControl3 = [
281.9,282.1,284.3,287.9,291.5,294.1,295.0,294.3,291.3,287.5,284.2,281.9,
281.6,281.9,284.1,287.9,291.5,294.2,295.1,294.4,291.4,287.6,284.3,282.0,
281.7,282.0,284.2,287.8,291.4,294.1,295.0,294.3,291.3,287.6,284.3,282.0,
281.7,282.0,284.2,287.9,291.5,294.2,295.1,294.4,291.4,287.6,284.3,282.0,
281.8,282.1,284.3,288.0,291.5,294.2,295.1,294.3,291.3,287.6,284.3,282.0,
281.6,281.9,284.1,287.8,291.4,294.1,295.0,294.3,291.3,287.6,284.3,282.0,
281.7,282.0,284.2,287.9,291.5,294.2,295.1,294.4,291.4,287.6,284.2,281.9,
281.6,281.9,284.1,287.8,291.4,294.1,295.0,294.3,291.3,287.6,284.3,282.0,
281.7,282.0,284.2,287.9,291.5,294.2,295.1,294.4,291.4,287.6,284.2,281.9,
281.7,282.0,284.2,287.9,291.5,294.2,295.1,294.4,291.4,287.7,284.6,282.8];

// ---------- Southern ----------
var southernNcep = [
289.9,289.8,289.1,287.7,286.1,284.8,284.2,284.3,284.7,286.0,287.6,289.1,
289.8,289.6,288.7,287.2,285.6,284.3,283.6,283.7,284.3,285.8,287.6,289.2,
290.2,290.1,289.3,287.8,286.2,284.8,284.0,284.1,284.6,285.9,287.5,288.9,
289.8,289.7,289.0,287.6,286.0,284.6,284.0,284.0,284.5,285.8,287.4,288.9,
289.9,289.8,289.1,287.7,286.1,284.8,284.1,284.2,284.6,285.9,287.5,289.0,
289.9,289.8,289.0,287.6,286.0,284.7,284.0,284.1,284.6,285.9,287.5,289.0,
289.9,289.7,288.9,287.4,285.8,284.5,283.9,284.0,284.6,285.9,287.6,289.3,
290.2,290.0,289.2,287.7,286.2,284.9,284.3,284.4,284.8,286.0,287.5,288.8,
289.7,289.6,288.9,287.5,285.9,284.6,284.1,284.1,284.6,285.9,287.5,289.0,
289.9,289.7,288.9,287.5,286.0,284.8,284.3,284.2,285.1,286.3,287.7,289.2];
var southernEra = [
289.5,289.4,288.7,287.3,285.7,284.4,283.8,283.9,284.3,285.7,287.3,288.7,
289.4,289.2,288.3,286.8,285.2,284.0,283.5,283.6,284.1,285.5,287.2,288.8,
289.6,289.5,288.8,287.4,285.8,284.4,283.7,283.7,284.2,285.5,287.1,288.5,
289.4,289.3,288.6,287.2,285.6,284.2,283.6,283.6,284.1,285.4,287.0,288.5,
289.4,289.3,288.6,287.3,285.7,284.4,283.8,283.8,284.2,285.5,287.1,288.6,
289.4,289.3,288.6,287.2,285.6,284.3,283.7,283.7,284.2,285.5,287.1,288.6,
289.5,289.4,288.6,287.1,285.5,284.2,283.6,283.7,284.3,285.6,287.3,289.0,
289.7,289.6,288.8,287.3,285.8,284.5,283.9,284.0,284.4,285.6,287.1,288.5,
289.4,289.3,288.6,287.1,285.5,284.2,283.7,283.7,284.2,285.5,287.1,288.6,
289.5,289.4,288.6,287.1,285.6,284.4,283.9,283.8,284.6,285.9,287.4,288.9];
var southernDecadal1 = [
290.4,290.2,289.5,288.3,287.0,286.0,285.5,285.6,286.0,287.1,288.6,289.9,
290.6,290.4,289.6,288.4,287.1,286.1,285.7,285.8,286.2,287.3,288.6,289.6,
290.2,290.1,289.4,288.1,286.8,285.8,285.4,285.4,285.9,287.0,288.5,289.8,
290.5,290.3,289.6,288.4,287.1,286.2,285.8,285.9,286.3,287.4,288.7,289.8,
290.4,290.2,289.5,288.3,287.0,286.0,285.6,285.7,286.1,287.2,288.6,289.7,
290.2,290.1,289.4,288.1,286.8,285.8,285.3,285.4,285.9,287.1,288.5,289.7,
290.3,290.2,289.5,288.3,287.0,286.1,285.7,285.8,286.2,287.3,288.6,289.7,
290.2,290.1,289.4,288.2,286.9,285.9,285.6,285.6,286.0,287.1,288.6,289.8,
290.3,290.2,289.4,288.2,286.9,285.9,285.5,285.6,286.0,287.2,288.7,290.0,
290.5,290.3,289.5,288.3,287.0,286.0,285.6,285.7,286.1,287.2,288.5,289.8];
var southernDecadal2 = [
290.5,290.3,289.6,288.4,287.1,286.1,285.6,285.7,286.1,287.2,288.6,289.9,
290.7,290.5,289.7,288.5,287.2,286.2,285.8,285.9,286.3,287.4,288.7,289.8,
290.5,290.3,289.5,288.2,286.9,285.9,285.5,285.5,286.0,287.1,288.6,290.0,
290.7,290.5,289.7,288.5,287.3,286.5,286.1,286.0,286.3,287.3,288.6,289.7,
290.2,290.1,289.4,288.2,286.9,285.9,285.5,285.6,286.0,287.1,288.5,289.7,
290.3,290.2,289.5,288.2,286.9,285.9,285.4,285.4,285.9,287.1,288.6,289.8,
290.4,290.3,289.5,288.3,287.0,286.0,285.6,285.7,286.1,287.3,288.7,289.9,
290.4,290.2,289.5,288.3,287.0,286.0,285.6,285.7,286.1,287.2,288.6,289.9,
290.6,290.4,289.6,288.3,287.0,286.0,285.7,285.7,286.1,287.2,288.6,289.9,
290.4,290.2,289.5,288.3,287.0,286.0,285.5,285.6,286.0,287.1,288.5,289.7];
var southernDecadal3 = [
290.3,290.2,289.5,288.3,287.0,286.0,285.5,285.5,286.0,287.1,288.6,289.9,
290.5,290.3,289.6,288.3,287.0,286.0,285.6,285.7,286.1,287.2,288.7,290.0,
290.6,290.4,289.6,288.3,287.0,286.0,285.6,285.6,286.1,287.3,288.7,290.0,
290.6,290.4,289.6,288.3,287.0,286.0,285.6,285.6,286.0,287.1,288.5,289.7,
290.3,290.1,289.4,288.1,286.8,285.7,285.3,285.4,285.9,287.1,288.6,289.8,
290.2,290.1,289.4,288.2,286.9,285.9,285.5,285.5,286.0,287.1,288.5,289.7,
290.2,290.1,289.4,288.2,286.9,285.9,285.4,285.5,285.9,287.1,288.6,289.9,
290.5,290.3,289.5,288.2,286.9,285.9,285.5,285.5,286.0,287.2,288.7,290.1,
290.6,290.4,289.5,288.2,286.9,285.8,285.4,285.5,285.9,287.1,288.6,289.9,
290.3,290.2,289.5,288.3,287.0,286.0,285.6,285.7,286.1,287.2,288.6,289.9];
var southernHistorical1 = [
290.4,290.2,289.5,288.3,287.0,286.0,285.6,285.7,286.1,287.2,288.6,289.8,
290.3,290.1,289.4,288.1,286.8,285.9,285.5,285.6,286.1,287.3,288.6,289.6,
290.1,290.0,289.3,288.1,286.8,285.8,285.4,285.5,285.9,287.0,288.4,289.6,
290.1,289.9,289.2,288.0,286.7,285.7,285.3,285.4,285.8,287.0,288.4,289.6,
290.1,290.0,289.3,288.0,286.7,285.7,285.4,285.5,286.0,287.2,288.6,289.8,
290.3,290.2,289.5,288.3,287.0,286.1,285.7,285.8,286.2,287.3,288.6,289.8,
290.4,290.2,289.5,288.3,287.1,286.2,285.8,285.9,286.3,287.4,288.8,290.0,
290.5,290.3,289.6,288.4,287.1,286.2,285.9,285.9,286.3,287.3,288.6,289.7,
290.2,290.0,289.3,288.2,287.0,286.1,285.7,285.8,286.2,287.3,288.6,289.8,
290.3,290.1,289.4,288.2,286.9,285.9,285.6,285.6,286.1,287.2,288.4,289.5];
var southernHistorical2 = [
290.5,290.3,289.6,288.4,287.1,286.1,285.7,285.8,286.2,287.3,288.7,290.0,
290.7,290.5,289.6,288.3,287.0,286.0,285.6,285.7,286.1,287.2,288.5,289.7,
290.3,290.2,289.5,288.3,287.0,286.1,285.6,285.6,286.0,287.1,288.4,289.6,
290.1,290.0,289.3,288.1,286.8,285.8,285.2,285.3,285.8,287.0,288.4,289.7,
290.2,290.1,289.3,288.1,286.8,285.8,285.3,285.4,285.9,287.1,288.5,289.8,
290.4,290.2,289.5,288.3,287.0,286.0,285.6,285.7,286.1,287.3,288.7,290.0,
290.6,290.4,289.6,288.4,287.1,286.1,285.6,285.7,286.2,287.3,288.7,290.0,
290.6,290.4,289.6,288.4,287.1,286.1,285.8,285.8,286.2,287.3,288.7,289.9,
290.3,290.1,289.4,288.2,287.0,286.0,285.5,285.6,286.0,287.2,288.6,289.8,
290.3,290.2,289.4,288.2,286.9,285.9,285.5,285.6,286.0,287.2,288.4,289.4];
var southernHistorical3 = [
290.3,290.2,289.4,288.2,286.9,285.9,285.5,285.6,286.0,287.2,288.6,289.9,
290.4,290.2,289.5,288.3,287.0,286.1,285.7,285.8,286.2,287.4,288.8,290.1,
290.6,290.4,289.6,288.4,287.2,286.2,285.7,285.7,286.1,287.2,288.5,289.7,
290.2,290.0,289.3,288.0,286.7,285.7,285.2,285.2,285.7,286.9,288.4,289.6,
290.0,289.9,289.2,288.0,286.7,285.7,285.3,285.3,285.8,287.0,288.5,289.8,
290.4,290.2,289.4,288.2,286.9,285.9,285.5,285.5,285.9,287.1,288.6,289.9,
290.4,290.3,289.6,288.4,287.1,286.1,285.7,285.8,286.2,287.4,288.9,290.1,
290.5,290.3,289.5,288.3,287.0,286.0,285.6,285.7,286.2,287.3,288.7,290.0,
290.4,290.2,289.4,288.2,286.9,285.9,285.5,285.6,286.0,287.2,288.6,289.8,
290.2,290.0,289.3,288.1,286.9,285.9,285.5,285.6,286.0,287.1,288.4,289.5];
var southernControl1 = [
290.5,290.3,289.6,288.4,287.1,286.1,285.7,285.8,286.2,287.3,288.6,289.8,
290.3,290.2,289.5,288.4,287.2,286.3,285.9,285.9,286.3,287.3,288.6,289.8,
290.3,290.2,289.4,288.2,286.9,286.0,285.6,285.6,286.0,287.1,288.5,289.7,
290.3,290.1,289.4,288.2,287.0,286.1,285.7,285.8,286.2,287.2,288.5,289.6,
290.1,290.0,289.3,288.1,286.8,285.9,285.5,285.6,286.0,287.1,288.5,289.7,
290.2,290.1,289.4,288.1,286.8,285.9,285.5,285.6,286.0,287.2,288.6,289.8,
290.3,290.2,289.5,288.3,287.0,286.0,285.7,285.7,286.1,287.2,288.5,289.6,
290.1,290.0,289.3,288.2,287.0,286.2,285.9,285.9,286.3,287.3,288.6,289.8,
290.3,290.2,289.5,288.3,287.1,286.2,285.9,285.9,286.3,287.3,288.6,289.8,
290.3,290.1,289.4,288.3,287.1,286.2,285.9,285.9,286.2,287.0,288.2,289.4];
var southernControl2 = [
290.5,290.3,289.6,288.3,287.0,286.0,285.6,285.7,286.1,287.2,288.5,289.7,
290.2,290.1,289.4,288.3,287.0,286.1,285.7,285.7,286.1,287.2,288.5,289.8,
290.3,290.2,289.4,288.2,286.9,285.9,285.5,285.5,286.0,287.1,288.6,289.8,
290.3,290.1,289.4,288.2,286.9,285.9,285.5,285.6,286.1,287.2,288.5,289.7,
290.2,290.1,289.4,288.2,286.9,285.9,285.6,285.7,286.1,287.2,288.6,289.8,
290.3,290.2,289.5,288.2,286.9,285.9,285.5,285.6,286.0,287.1,288.5,289.7,
290.2,290.1,289.4,288.2,286.9,286.0,285.6,285.6,286.0,287.2,288.6,289.8,
290.2,290.1,289.4,288.2,286.9,285.9,285.6,285.7,286.1,287.2,288.6,289.8,
290.3,290.2,289.5,288.3,287.0,286.0,285.6,285.7,286.1,287.2,288.5,289.7,
290.2,290.1,289.4,288.2,286.9,285.9,285.5,285.5,286.0,287.0,288.0,289.3];
var southernControl3 = [
290.4,290.2,289.5,288.3,287.0,286.0,285.6,285.7,286.1,287.3,288.6,289.8,
290.3,290.2,289.4,288.2,286.9,285.9,285.5,285.6,286.0,287.1,288.5,289.7,
290.2,290.1,289.4,288.2,286.9,286.0,285.6,285.7,286.1,287.2,288.6,289.8,
290.2,290.1,289.4,288.2,287.0,286.0,285.6,285.6,286.0,287.1,288.5,289.7,
290.2,290.1,289.4,288.1,286.8,285.8,285.4,285.5,286.0,287.1,288.5,289.7,
290.2,290.0,289.3,288.1,286.9,285.9,285.5,285.6,286.0,287.2,288.6,289.8,
290.3,290.1,289.4,288.2,286.9,285.9,285.5,285.6,286.0,287.1,288.5,289.7,
290.2,290.1,289.4,288.2,286.9,286.0,285.7,285.7,286.1,287.2,288.6,289.8,
290.3,290.2,289.4,288.2,286.9,285.9,285.6,285.6,286.0,287.1,288.5,289.7,
290.2,290.1,289.4,288.2,286.9,285.9,285.4,285.4,285.9,287.0,288.1,289.4];

// ---------- layout ----------
var svg = d3.select("#chart");
var sourceColors = ["#000000", "#A020F0", "#FF0000", "#0000FF", "#00CD00"];
var dashes = [null, "4,4", "1,3"];   // solid, dashed, dotted runs

// plot boxes: left/right edges per column, top/bottom per row
var cols = [[62.7, 627], [723.7, 1288]];
var rowBoxes = [[50.7, 140.7], [169.3, 258], [289, 379], [408, 485],
                [529, 619], [649, 738], [767, 856], [884, 963]];

// time axis: month starts, 1981.0 .. 1990.917
var time = d3.range(120).map(function(i) { return 1981 + i / 12; });

var regions = [
  { col: 0, row0: 0, domain: [285.1, 291.35], ticks: globalTicks, fmt: d3.format("d"),
    labels: [globalLabels, globalLabels, globalLabels, globalLabels],
    ncep: globalNcep,
    models: [[globalEra], [globalDecadal1, globalDecadal2, globalDecadal3],
             [globalHistorical1, globalHistorical2, globalHistorical3],
             [globalControl1, globalControl2, globalControl3]] },
  { col: 1, row0: 0, domain: [297.72, 301.01], ticks: tropicalTicks, fmt: d3.format(".1f"),
    labels: [tropicalLabels, tropicalLabels, tropicalLabels, tropicalLabelsShort],
    ncep: tropicalNcep,
    models: [[tropicalEra], [tropicalDecadal1, tropicalDecadal2, tropicalDecadal3],
             [tropicalHistorical1, tropicalHistorical2, tropicalHistorical3],
             [tropicalControl1, tropicalControl2, tropicalControl3]] },
  { col: 0, row0: 4, domain: [280.1, 296.6], ticks: northernTicks, fmt: d3.format("d"),
    labels: [northernLabels, northernLabels, northernLabels, northernLabels],
    ncep: northernNcep,
    models: [[northernEra], [northernDecadal1, northernDecadal2, northernDecadal3],
             [northernHistorical1, northernHistorical2, northernHistorical3],
             [northernControl1, northernControl2, northernControl3]] },
  { col: 1, row0: 4, domain: [283.1, 291.4], ticks: southernTicks, fmt: d3.format("d"),
    labels: [southernLabels, southernLabels, southernLabels, southernLabels],
    ncep: southernNcep,
    models: [[southernEra], [southernDecadal1, southernDecadal2, southernDecadal3],
             [southernHistorical1, southernHistorical2, southernHistorical3],
             [southernControl1, southernControl2, southernControl3]] }
];

// big coloured title
var title = svg.append("text")
    .attr("x", 653).attr("y", 31)
    .attr("text-anchor", "middle")
    .style("font-size", "27.6px");
sourceNames.forEach(function(name, i) {
  title.append("tspan").attr("fill", sourceColors[i]).text((i ? " " : "") + name);
});

regions.forEach(function(reg, r) {
  var x0 = cols[reg.col][0], x1 = cols[reg.col][1];

  var x = d3.scaleLinear().domain([1980.603, 1991.313]).range([x0, x1]);

  // region name above first panel
  svg.append("text")
      .attr("x", (x0 + x1) / 2)
      .attr("y", rowBoxes[reg.row0][0] - 2.5)
      .attr("text-anchor", "middle")
      .style("font-size", "14.4px")
      .style("font-weight", "bold")
      .text(regionNames[r]);

  reg.models.forEach(function(runs, p) {
    var top = rowBoxes[reg.row0 + p][0], bottom = rowBoxes[reg.row0 + p][1];
    var y = d3.scaleLinear().domain(reg.domain).range([bottom, top]);
    var g = svg.append("g");

    var line = d3.line()
        .x(function(d, i) { return x(time[i]); })
        .y(function(d) { return y(d); });

    // model runs first, reanalysis on top
    runs.forEach(function(vals, k) {
      g.append("path")
          .attr("d", line(vals))
          .attr("fill", "none")
          .attr("stroke", sourceColors[p + 1])
          .attr("stroke-width", 1)
          .attr("stroke-dasharray", dashes[k]);
    });
    g.append("path")
        .attr("d", line(reg.ncep))
        .attr("fill", "none")
        .attr("stroke", "#000")
        .attr("stroke-width", 1);

    // frame
    g.append("rect")
        .attr("x", x0).attr("y", top)
        .attr("width", x1 - x0).attr("height", bottom - top)
        .attr("fill", "none").attr("stroke", "#000");

    // y axis ticks + rotated labels
    var ya = g.append("g")
        .attr("transform", "translate(" + x0 + ",0)")
        .call(d3.axisLeft(y).tickValues(reg.ticks).tickSize(7).tickFormat(""));
    ya.select(".domain").remove();

    g.selectAll(".ylab")
        .data(reg.labels[p])
        .enter().append("text")
        .attr("transform", function(d) { return "translate(" + (x0 - 16) + "," + y(d) + ") rotate(-90)"; })
        .attr("text-anchor", "middle")
        .style("font-size", "12px")
        .text(function(d) { return reg.fmt(d); });

    g.append("text")
        .attr("transform", "translate(" + (x0 - 44.7) + "," + ((top + bottom) / 2) + ") rotate(-90)")
        .attr("text-anchor", "middle")
        .style("font-size", "12px")
        .text("ave temp (K)");

    // x axis
    var xa = g.append("g")
        .attr("transform", "translate(0," + bottom + ")")
        .call(d3.axisBottom(x).tickValues(yearTicks).tickSize(7).tickFormat(""));
    xa.select(".domain").remove();

    g.selectAll(".xlab")
        .data(yearTicks)
        .enter().append("text")
        .attr("x", function(d) { return x(d); })
        .attr("y", bottom + 25.5)
        .attr("text-anchor", "middle")
        .style("font-size", "12px")
        .text(function(d) { return d; });
  });
});
</script>
</body>
</html>
